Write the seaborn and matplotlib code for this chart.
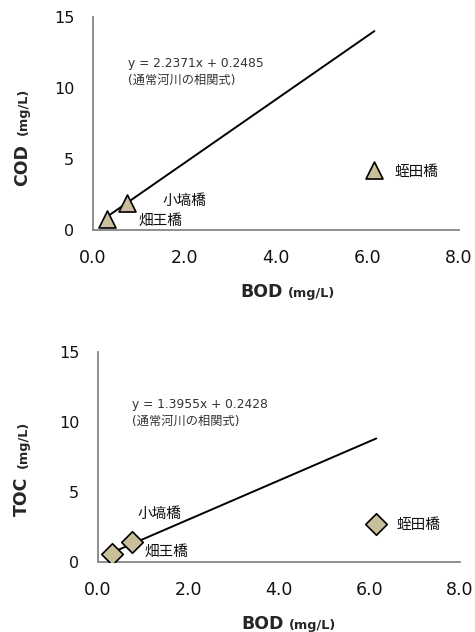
import matplotlib
matplotlib.use("Agg")
import matplotlib.pyplot as plt
import seaborn as sns
import numpy as np
import pandas as pd

# data
sites = ["畑王橋", "小塙橋", "蛭田橋"]
bod = [0.3, 0.75, 6.15]
cod = [0.8, 1.9, 4.2]
toc = [0.6, 1.45, 2.7]

cod_slope, cod_icpt = 2.2371, 0.2485
toc_slope, toc_icpt = 1.3955, 0.2428

# label positions (data coords) for the site names
cod_label_pos = [(0.99, 0.65), (1.51, 2.05), (6.6, 4.15)]
toc_label_pos = [(1.02, 0.79), (0.88, 3.5), (6.6, 2.7)]

sns.set_style("white")
plt.rcParams['font.family'] = ['DejaVu Sans', 'Noto Sans CJK JP']

GRAY = "#868686"
FILL = "#C9C09B"

fig = plt.figure(figsize=(4.75, 6.32), dpi=100)
ax1 = fig.add_axes([93 / 475, 1 - 230 / 632, 366 / 475, 213 / 632])
ax2 = fig.add_axes([98 / 475, 1 - 562 / 632, 362 / 475, 210 / 632])


def style_axes(ax):
    ax.set_xlim(0, 8)
    ax.set_ylim(0, 15)
    ax.set_xticks([0, 2, 4, 6, 8])
    ax.set_xticklabels(["0.0", "2.0", "4.0", "6.0", "8.0"])
    ax.set_yticks([0, 5, 10, 15])
    for side in ["top", "right"]:
        ax.spines[side].set_visible(False)
    for side in ["left", "bottom"]:
        ax.spines[side].set_color(GRAY)
        ax.spines[side].set_linewidth(1.3)
    ax.tick_params(axis="both", direction="out", length=5, width=1.3,
                   color=GRAY, labelcolor="#111111")
    ax.tick_params(axis="x", labelsize=12.5, pad=8.5)
    ax.tick_params(axis="y", labelsize=11.5, pad=8.5)
    ax.set_xlabel("")
    ax.set_ylabel("")


def two_part_labels(ax, ylab, xjunc, yjunc, ylx, xly_pts):
    # x label: bold "BOD" + small "(mg/L)"
    ax.annotate("BOD", xy=(xjunc, 0), xycoords="axes fraction",
                xytext=(-1, xly_pts), textcoords="offset points",
                ha="right", va="center", fontsize=12.5, fontweight="bold")
    ax.annotate("(mg/L)", xy=(xjunc, 0), xycoords="axes fraction",
                xytext=(2.5, xly_pts - 1), textcoords="offset points",
                ha="left", va="center", fontsize=9.3, fontweight="bold")
    # y label
    ax.text(ylx, yjunc - 0.024, ylab, transform=ax.transAxes, rotation=90,
            ha="center", va="top", fontsize=12.5, fontweight="bold")
    ax.text(ylx + 0.004, yjunc + 0.02, "(mg/L)", transform=ax.transAxes,
            rotation=90, ha="center", va="bottom", fontsize=9.3,
            fontweight="bold")


def draw_panel(ax, yvals, slope, icpt, marker, size, eq_xy, label_pos):
    df = pd.DataFrame({"BOD": bod, "Y": yvals, "site": sites})
    x_line = np.array([min(bod), max(bod)])
    line_df = pd.DataFrame({"BOD": x_line, "Y": slope * x_line + icpt})
    sns.lineplot(data=line_df, x="BOD", y="Y", ax=ax, color="black",
                 linewidth=1.4, zorder=2)
    sns.scatterplot(data=df, x="BOD", y="Y", ax=ax, marker=marker, s=size,
                    color=FILL, edgecolor="black", linewidth=1.2, zorder=3,
                    legend=False)
    ax.text(eq_xy[0], eq_xy[1],
            "y = %.4fx + %.4f\n(通常河川の相関式)" % (slope, icpt),
            fontsize=8.8, color="#333333", ha="left", va="center",
            linespacing=1.35)
    for name, (lx, ly) in zip(sites, label_pos):
        ax.text(lx, ly, name, fontsize=10.5, color="#111111",
                ha="left", va="center")
    style_axes(ax)


draw_panel(ax1, cod, cod_slope, cod_icpt, "^", 150, (0.77, 11.15),
           cod_label_pos)
draw_panel(ax2, toc, toc_slope, toc_icpt, "D", 120, (0.75, 10.65),
           toc_label_pos)

two_part_labels(ax1, "COD", 0.522, 0.428, -0.194, -44.5)
two_part_labels(ax2, "TOC", 0.517, 0.43, -0.21, -44.5)

fig.savefig("out.png", dpi=100)
